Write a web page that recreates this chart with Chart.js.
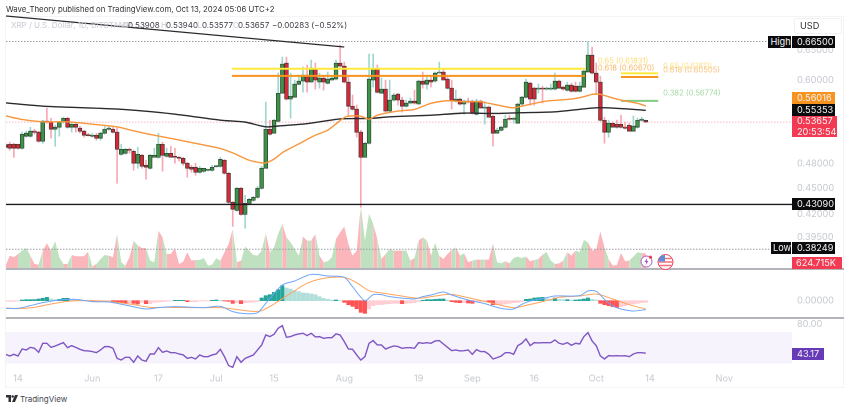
<!DOCTYPE html>
<html>
<head>
<meta charset="utf-8">
<title>XRP / U.S. Dollar</title>
<script src="https://cdn.jsdelivr.net/npm/chart.js@4/dist/chart.umd.min.js"></script>
<style>
  html, body { margin: 0; padding: 0; background: #fff; }
  #page { position: relative; width: 850px; height: 409px; overflow: hidden; font-family: Inter, "Liberation Sans", sans-serif; }
  #page canvas { position: absolute; left: 0; }
  .t { position: absolute; white-space: nowrap; font-size: 8px; line-height: 12px; }
  .pale { color: #c9ccd3; }
  .dark { color: #3a3d45; }
  .badge { position: absolute; left: 792px; width: 43px; box-sizing: border-box; padding-left: 5px; color: #f4f4f6; background: #0b0b0d; font-size: 9.2px; line-height: 12px; height: 12px; white-space: nowrap; }
  .sep { position: absolute; left: 6px; width: 838px; height: 1.5px; background: #b3b5ba; }
  #frame { position: absolute; left: 5px; top: 16px; width: 839px; height: 372px; border: 1px solid #f3f4f6; box-sizing: border-box; }
</style>
</head>
<body>
<div id="page">
  <div id="frame"></div>
  <canvas id="mainChart" width="850" height="269" style="top:0"></canvas>
  <canvas id="macdChart" width="850" height="49" style="top:269px"></canvas>
  <canvas id="rsiChart" width="850" height="70" style="top:318px"></canvas>
  <div class="sep" style="top:268px"></div>
  <div class="sep" style="top:317px"></div>

  <div class="t" style="left:6px;top:3px;color:#2f3136;font-size:7.8px">Wave_Theory published on TradingView.com, Oct 13, 2024 05:06 UTC+2</div>
  <div class="t pale" style="left:11px;top:19px">XRP / U.S. Dollar, 1D, BITSTAMP</div>
  <div class="t pale" style="left:122px;top:19px">O</div><div class="t dark" style="left:128px;top:19px">0.53908</div>
  <div class="t pale" style="left:161px;top:19px">H</div><div class="t dark" style="left:166px;top:19px">0.53940</div>
  <div class="t pale" style="left:197px;top:19px">L</div><div class="t dark" style="left:202px;top:19px">0.53577</div>
  <div class="t pale" style="left:233px;top:19px">C</div><div class="t dark" style="left:238px;top:19px">0.53657</div>
  <div class="t dark" style="left:272px;top:19px">−0.00283 (−0.52%)</div>

  <div style="position:absolute;left:794px;top:18px;width:48px;height:16px;border:1px solid #f0f1f3;box-sizing:border-box;border-radius:2px"></div>
  <div class="t" style="left:800px;top:20px;color:#2f3136;font-size:9.2px">USD</div>

  <div class="badge" style="left:768px;width:23px;top:36px;padding-left:2.5px">High</div>
  <div class="badge" style="top:36px">0.66500</div>
  <div class="badge" style="top:92px;background:#f7931e">0.56016</div>
  <div class="badge" style="top:104px">0.55353</div>
  <div class="badge" style="top:116px;width:45px;height:21px;background:#f23a52;line-height:10.5px">0.53657<br>20:53:54</div>
  <div class="badge" style="top:197.5px">0.43090</div>
  <div class="badge" style="left:771px;width:20px;top:242px;padding-left:2px">Low</div>
  <div class="badge" style="top:242px">0.38249</div>
  <div class="badge" style="top:257px;width:50px;background:#f23a52;padding-left:4px">624.715K</div>
  <div class="badge" style="top:347.5px;width:32px;background:#673ab7">43.17</div>

  <svg style="position:absolute;left:640px;top:255px" width="13" height="13" viewBox="0 0 13 13">
    <circle cx="6.5" cy="6.5" r="5.5" fill="#fff" stroke="#a64bc8" stroke-width="1"/>
    <path d="M7.2 3 L4.6 7 H6.3 L5.7 10 L8.4 6 H6.7 Z" fill="#a64bc8"/>
    <circle cx="10.5" cy="2.2" r="1.6" fill="#f23a52"/>
  </svg>
  <svg style="position:absolute;left:656.5px;top:253.5px" width="17" height="16" viewBox="0 0 17 16">
    <circle cx="8.5" cy="8" r="7.5" fill="#fff" stroke="#f23a52" stroke-width="1"/>
    <path d="M2 4.5H15M1 8H16M2 11.5H15" stroke="#f4707f" stroke-width="1.4"/>
    <path d="M2.5 3.2 A7.2 7.2 0 0 1 8 1 V7.5 H1.5 Z" fill="#5a8fd8"/>
  </svg>

  <svg style="position:absolute;left:6px;top:395px" width="12" height="7" viewBox="0 0 12 7">
    <path d="M0 0H5V7H2.5V2.5H0Z M9 0H12L9 7H6Z" fill="#2f3136"/><circle cx="6.7" cy="1.5" r="1.3" fill="#2f3136"/>
  </svg>
  <div class="t" style="left:20px;top:393px;color:#44474f">TradingView</div>
</div>

<script>
// daily candles, first one is May 11 (day -3 counted from May 14)
const firstDay = -3;

const opens = [.5052,.5059,.5059,.5059,.5005,.5168,.5168,.5238,.5224,.5099,.5379,.5365,.5265,.5294,.5365,.5422,.5294,.5336,.5280,.5238,
  .5189,.5168,.5182,.5141,.5210,.5265,.5265,.5224,.4925,.4938,.4991,.4965,.4809,.4912,.4783,.4745,.4885,.4885,.5059,.4899,
  .4938,.4899,.4885,.4872,.4809,.4758,.4758,.4695,.4708,.4720,.4720,.4764,.4770,.4847,.4683,.4334,.4242,.4499,.4197,.4322,
  .4357,.4392,.4499,.4745,.5265,.5210,.5379,.5795,.6278,.5704,.5734,.5936,.5984,.6080,.5968,.6179,.5968,.6032,.5952,.6000,
  .6016,.6278,.6228,.5968,.5598,.5554,.5224,.4885,.5072,.6000,.6179,.5795,.5858,.5525,.5689,.5780,.5689,.5598,.5644,.5674,
  .5629,.5984,.5936,.6000,.5984,.6113,.6130,.6016,.5873,.5674,.5704,.5629,.5674,.5674,.5480,.5674,.5569,.5584,.5451,.5210,
  .5251,.5294,.5422,.5407,.5350,.5629,.5734,.5952,.5873,.5858,.5866,.5858,.5858,.5858,.5984,.5889,.5842,.5921,.5905,.5826,
  .5889,.6130,.6413,.6113,.5968,.5393,.5224,.5350,.5336,.5336,.5294,.5322,.5238,.5294,.5393,.53908];
const highs = [.5072,.5086,.5072,.5059,.5224,.5238,.5294,.5265,.5238,.5393,.5569,.5422,.5322,.5365,.5436,.5436,.5365,.5365,.5308,.5251,
  .5210,.5210,.5210,.5224,.5308,.5308,.5294,.5280,.5059,.5005,.5005,.4978,.5018,.4925,.4847,.4925,.5005,.5210,.5086,.5005,
  .5032,.5005,.4899,.4885,.4821,.4783,.4809,.4770,.4745,.4733,.4783,.4783,.4885,.4859,.4695,.4345,.4511,.4511,.4415,.4380,
  .4403,.4523,.4770,.5659,.5393,.5407,.6113,.6379,.6379,.6113,.6000,.6080,.6212,.6245,.6329,.6278,.6113,.6080,.6130,.6080,
  .6329,.6587,.6295,.6080,.5765,.5613,.5251,.5086,.6431,.6431,.6245,.6032,.6000,.6000,.5795,.5795,.5734,.5689,.5719,.5842,
  .6000,.6130,.6048,.6048,.6130,.6295,.6162,.6048,.6000,.5842,.5719,.5689,.5719,.5689,.5704,.5689,.5659,.5598,.5465,.5280,
  .5308,.5465,.5465,.5436,.5644,.5749,.6016,.5968,.5889,.5936,.5905,.5889,.5936,.6113,.6000,.5905,.5968,.5952,.5968,.5968,
  .6162,.6650,.6553,.6278,.6064,.5436,.5393,.5365,.5393,.5465,.5365,.5350,.5451,.5422,.5436,.53940];
const lows = [.5005,.4978,.4885,.4991,.4991,.5154,.5154,.5196,.5086,.5072,.5350,.5141,.5032,.5168,.5350,.5280,.5224,.5224,.5210,.5154,
  .5168,.5154,.5113,.5113,.5196,.5251,.5210,.4559,.4912,.4925,.4938,.4720,.4745,.4745,.4608,.4733,.4885,.4872,.4708,.4885,
  .4885,.4809,.4834,.4783,.4633,.4695,.4657,.4683,.4695,.4708,.4708,.4758,.4758,.4670,.4322,.4065,.4231,.4186,.4044,.4311,
  .4345,.4380,.4487,.4745,.5182,.5210,.5365,.5795,.5689,.5422,.5734,.5921,.5811,.5811,.5968,.5858,.5873,.5842,.5936,.6000,
  .6000,.6212,.5952,.5465,.5539,.5154,.4277,.4885,.5059,.5889,.5795,.5795,.5510,.5510,.5674,.5613,.5510,.5584,.5629,.5629,
  .5629,.5873,.5858,.5889,.5968,.6113,.6000,.5858,.5554,.5659,.5613,.5480,.5644,.5480,.5465,.5569,.5336,.5436,.5032,.5210,
  .5238,.5280,.5393,.5350,.5350,.5613,.5719,.5613,.5613,.5795,.5644,.5842,.5842,.5842,.5873,.5842,.5826,.5811,.5811,.5811,
  .5889,.6130,.6097,.5780,.5379,.5072,.5154,.5294,.5280,.5280,.5265,.5238,.5238,.5280,.5379,.53577];
const closes = [.5018,.5005,.5005,.5005,.5196,.5210,.5238,.5224,.5099,.5379,.5365,.5265,.5294,.5365,.5422,.5294,.5336,.5294,.5238,.5182,
  .5175,.5182,.5141,.5210,.5265,.5280,.5224,.4991,.4991,.4991,.4978,.4809,.4925,.4770,.4758,.4912,.4912,.5059,.4912,.4938,
  .4885,.4885,.4872,.4809,.4745,.4733,.4695,.4745,.4745,.4727,.4758,.4777,.4859,.4683,.4334,.4254,.4499,.4197,.4322,.4368,
  .4392,.4499,.4745,.5265,.5196,.5393,.5795,.6262,.5704,.5749,.5936,.5984,.6080,.5968,.6195,.6000,.6032,.5968,.6016,.6032,
  .6278,.6228,.5968,.5598,.5554,.5224,.4885,.5072,.6016,.6179,.5811,.5858,.5525,.5689,.5765,.5689,.5598,.5644,.5674,.5644,
  .5984,.5936,.6000,.5968,.6113,.6130,.6000,.5873,.5674,.5704,.5629,.5674,.5659,.5495,.5674,.5569,.5576,.5436,.5210,.5251,
  .5294,.5407,.5407,.5422,.5629,.5734,.5968,.5704,.5704,.5866,.5858,.5873,.5873,.5984,.5873,.5858,.5921,.5826,.5826,.5905,
  .6146,.6413,.6113,.5968,.5393,.5224,.5350,.5294,.5294,.5294,.5280,.5238,.5308,.5393,.5407,.53657];

// volume in thousands
const volumes = [133,533,467,600,733,840,533,200,173,733,1027,733,1107,467,200,200,560,507,507,507,
  693,107,200,400,560,533,467,1400,267,133,467,1133,933,840,840,333,267,1533,1267,600,
  600,840,200,293,667,333,360,360,440,133,173,427,333,667,1000,1600,267,333,893,733,
  560,533,733,1440,667,867,1400,1800,1267,1067,800,533,1293,1133,1133,1400,533,267,307,467,
  1200,1467,1693,1000,533,733,2533,1133,2200,1800,1200,400,600,800,733,733,733,733,333,440,
  1133,1267,1133,533,1040,533,400,600,760,867,533,627,267,333,373,373,373,373,1027,267,
  227,307,227,440,493,440,493,307,360,400,573,667,333,200,227,333,667,533,733,667,
  1160,1067,733,800,1493,867,400,133,160,640,307,333,493,667,640,624.715];

const ema50Days = [-3,1,6,12,18,24,28,32,38,44,49,52,56,59,60,62,64,65,68,72,75,79,80,83,85,87,92,96,100,104,108,112,114,118,120,122,128,134,137,139,140,141,143,146,150,152];
const ema50Vals = [.5455,.5403,.5369,.5369,.5336,.5298,.5242,.5192,.5127,.5059,.5001,.4943,.4847,.4812,.4812,.4862,.4946,.4978,.5063,.5182,.5251,.5432,.5451,.5451,.5407,.5465,.5525,.5550,.5640,.5679,.5664,.5664,.5640,.5590,.5574,.5598,.5674,.5704,.5740,.5777,.5780,.5777,.5740,.5689,.5640,.56016];
const ema200Days = [-3,6,24,38,49,55,60,63,70,78,85,90,100,108,115,121,130,140,146,152];
const ema200Vals = [.5647,.5598,.5554,.5480,.5393,.5365,.5298,.5310,.5343,.5411,.5417,.5441,.5465,.5495,.5490,.5500,.5514,.5574,.5562,.55353];

// MACD pane, values in units of 0.00015
const macdHist = [-2,-2,-2,-1,2,3,3,3,5,7,10,5,3,4,7,7,3,2,1,1,
  0,-2,-2,-1,-1,-1,-3,-5,-6,-7,-7,-8,-10,-5,-9,-9,-5,-4,-3,-2,
  -1,1,1,1,-3,-3,-3,-1,-1,-1,1,2,1,-1,-2,-8,-6,-9,-6,-5,
  -4,-2,8,15,18,25,33,45,38,35,30,27,23,22,20,18,12,7,4,2,
  2,0,-5,-12,-17,-24,-35,-38,-25,-15,-12,-12,-10,-9,-8,-8,-9,-8,-7,-6,
  -3,1,3,3,4,5,5,1,-3,-5,-6,-6,-7,-8,-4,-3,-3,-4,-12,-12,
  -12,-10,-8,-6,-5,-3,4,5,8,9,10,6,4,8,4,3,3,2,2,3,
  5,8,4,2,-8,-12,-15,-18,-20,-18,-15,-12,-10,-8,-6,-5];
const macdDays = [-3,0,3,6,10,14,18,22,26,31,34,38,45,49,52,55,58,60,64,67,71,75,79,81,84,86,88,90,96,98,100,103,105,109,113,116,118,120,122,124,127,130,136,138,140,142,144,146,149,152];
const macdVals = [-23,-23,-15,-6,2,4,-3,-4,-13,-25,-21,-18,-21,-17,-33,-39,-36,-8,47,59,79,74,70,42,0,18,18,12,5,12,17,26,17,2,-9,-20,-25,-25,-11,-1,6,14,15,29,28,4,-16,-25,-31,-27];
const signalDays = [-3,0,4,8,12,16,20,24,28,32,36,44,49,52,57,59,62,66,70,74,79,82,85,88,92,96,98,101,105,109,114,120,123,127,131,136,140,144,148,152];
const signalVals = [-22,-24,-20,-10,-2,0,-1,-5,-12,-20,-20,-21,-21,-25,-32,-30,-10,22,52,67,70,54,30,23,16,8,8,14,19,9,-5,-21,-14,-3,10,14,20,5,-12,-25];

const rsiVals = [41.8,39.7,41.8,39.7,48.5,47.3,50.6,49.4,44.3,55.7,55.7,50.6,52.3,54.4,56.5,50.2,52.7,50.6,48.1,46.4,
  46,45.2,43.9,47.3,51.5,51.5,49.4,36.7,34.6,38,38,31.7,39.7,34.6,33,42.2,42.2,50.2,44.3,46,
  43.9,43.9,42.2,41,36.7,38,35.9,41,38.8,38.8,41,42.2,48.1,38.8,27.5,25.4,38.8,31.7,36.7,38.8,
  41,47.3,53.6,66.2,64.1,67.1,74.6,78,63.3,64.1,66.2,67.5,68.3,65.4,68.3,63.7,64.1,62,62.8,62.8,
  67.5,66.2,57.8,48.5,48.1,41,34.6,38.8,55.7,59.1,53.6,53.6,48.5,50.6,52.3,51.5,49.4,50.2,50.2,49.4,
  56.5,55.7,56.5,55.7,58.6,59.1,54.8,50.6,46.4,47.3,46,46.4,47.3,41.8,47.7,45.2,45.2,41.8,35.9,37.6,
  39.7,43.9,43.9,41.8,52.7,55.7,61.2,52.7,56.5,56.1,56.5,56.5,56.5,59.9,55.7,54.4,56.5,53.2,55.7,54.8,
  64.1,69.2,58.6,52.7,39.7,35.9,40.1,39.7,40.1,39.7,40.1,38.8,42.2,43.9,43.9,43.17];

// axis ticks
const priceTicks = [.65,.6,.48,.45,.42,.395];
const macdTicks = [0];
const rsiTicks = [80];
const xTickDays = [0,18,34,48,62,79,97,110,125,140,153,171];
const xTickLabels = ['14','Jun','17','Jul','15','Aug','19','Sep','16','Oct','14','Nov'];

// levels drawn on the price pane
const highPrice = .665, lowPrice = .38249, lastPrice = .53657, supportPrice = .4309;
const fibYellow = .61831, fibOrange = .6067, fibYellow2 = .6108, fibOrange2 = .60505, fibGreen = .56774;
const trendDays = [-3,79], trendPrices = [.7117,.6553];
const fibLabels = [
  { day: 140.4, price: .6312, text: '0.65 (0.61831)', color: '#fbdc78' },
  { day: 140.4, price: .6195, text: '0.618 (0.60670)', color: '#f8b765' },
  { day: 156.2, price: .6228, text: '0.65 (0.61811)', color: '#fbe38e' },
  { day: 156.2, price: .6162, text: '0.618 (0.60505)', color: '#f8c27c' },
  { day: 156.2, price: .5795, text: '0.382 (0.56774)', color: '#a5d8a5' }
];

const days = opens.map((_, i) => firstDay + i);
const dayMin = -2.9, dayMax = 187.4;
const FONT = { family: 'Inter, "Liberation Sans", sans-serif', size: 9.2 };
const TICK_GREY = '#c6c9d0';

function pts(xs, ys) { return xs.map((x, i) => ({ x: x, y: ys[i] })); }
function isUp(i) { return closes[i] >= opens[i]; }

function lineSet(xs, ys, color, width, order, extra) {
  return Object.assign({
    type: 'line', data: pts(xs, ys), borderColor: color, borderWidth: width,
    pointRadius: 0, fill: false, order: order, yAxisID: 'y'
  }, extra || {});
}
function level(price, from, to, color, width, order, dash) {
  return lineSet([from, to], [price, price], color, width, order, { borderDash: dash || [] });
}

function xOpts(shown) {
  return {
    type: 'linear', min: dayMin, max: dayMax, display: shown, bounds: 'data', offset: false,
    grid: { display: false, drawTicks: false, tickLength: 0 }, border: { display: false },
    afterBuildTicks: s => { s.ticks = xTickDays.map(v => ({ value: v })); },
    afterFit: s => { s.height = shown ? 18 : 0; s.paddingLeft = 0; s.paddingRight = 0; },
    ticks: {
      autoSkip: false, maxRotation: 0, color: TICK_GREY, font: FONT, padding: 3,
      callback: v => xTickLabels[xTickDays.indexOf(v)]
    }
  };
}
function yOpts(type, min, max, tickVals, decimals) {
  return {
    type: type, position: 'right', min: min, max: max, bounds: 'data',
    grid: { display: false, drawTicks: false }, border: { display: false },
    afterBuildTicks: s => { s.ticks = tickVals.map(v => ({ value: v })); },
    // no extra room for the tick labels, pane sizes are fixed by the canvas
    afterFit: s => { s.width = 58; s.paddingTop = 0; s.paddingBottom = 0; },
    ticks: { autoSkip: false, color: TICK_GREY, font: FONT, padding: 5, callback: v => Number(v).toFixed(decimals) }
  };
}
const baseOptions = {
  responsive: false, animation: false, devicePixelRatio: 2,
  plugins: { legend: { display: false }, tooltip: { enabled: false } }
};

const fibLabelPlugin = {
  id: 'fibLabels',
  afterDatasetsDraw(chart) {
    const ctx = chart.ctx;
    ctx.save();
    ctx.font = '7.6px ' + FONT.family;
    ctx.textBaseline = 'middle';
    fibLabels.forEach(l => {
      ctx.fillStyle = l.color;
      ctx.fillText(l.text, chart.scales.x.getPixelForValue(l.day), chart.scales.y.getPixelForValue(l.price));
    });
    ctx.restore();
  }
};

new Chart(document.getElementById('mainChart'), {
  type: 'bar',
  plugins: [fibLabelPlugin],
  data: {
    datasets: [
      lineSet(ema50Days, ema50Vals, '#f7963c', 1.4, 1, { tension: 0.25 }),
      lineSet(ema200Days, ema200Vals, '#2b2b2e', 1.4, 1, { tension: 0.25 }),
      lineSet(trendDays, trendPrices, '#2b2b2e', 1.2, 1),
      level(supportPrice, dayMin, dayMax, '#1c1c1f', 1.4, 1),
      level(fibYellow, 51.8, 137.3, '#ffe93b', 2, 2),
      level(fibOrange, 51.8, 137.3, '#f7941d', 2, 2),
      level(fibYellow2, 146, 155, '#ffe93b', 2, 2),
      level(fibOrange2, 146, 155, '#f7941d', 2, 2),
      level(fibGreen, 146, 155, '#82cc82', 2, 2),
      level(highPrice, dayMin, dayMax, '#9a9da3', 1, 8, [1.5, 1.5]),
      level(lowPrice, dayMin, dayMax, '#9a9da3', 1, 8, [1.5, 1.5]),
      level(lastPrice, dayMin, dayMax, '#f8b8c0', 1, 8, [1.5, 1.5]),
      {
        type: 'bar', label: 'bodies', order: 4, yAxisID: 'y', grouped: false,
        data: days.map((d, i) => ({ x: d, y: [opens[i], closes[i]] })),
        backgroundColor: days.map((_, i) => isUp(i) ? '#3d9347' : '#d62839'),
        borderColor: '#2e3a32', borderWidth: 0.7, borderSkipped: false,
        barThickness: 3.8, minBarLength: 1
      },
      {
        type: 'bar', label: 'wicks', order: 5, yAxisID: 'y', grouped: false,
        data: days.map((d, i) => ({ x: d, y: [lows[i], highs[i]] })),
        backgroundColor: days.map((_, i) => isUp(i) ? '#9fd8cf' : '#f6a9b5'),
        barThickness: 1
      },
      {
        type: 'line', label: 'volume', order: 10, yAxisID: 'vol',
        data: pts(days, volumes), borderWidth: 0, borderColor: 'rgba(0,0,0,0)', pointRadius: 0,
        fill: 'origin', backgroundColor: '#fbb6bc',
        segment: { backgroundColor: c => isUp(c.p1DataIndex) ? '#bfe1bf' : '#fbb6bc' }
      }
    ]
  },
  options: Object.assign({}, baseOptions, {
    layout: { padding: { left: 6, top: 14, right: 0, bottom: 0 } },
    scales: {
      x: xOpts(false),
      y: yOpts('logarithmic', .3629, .7154, priceTicks, 5),
      vol: { type: 'linear', display: false, min: 0, max: 10180 }
    }
  })
});

new Chart(document.getElementById('macdChart'), {
  type: 'bar',
  data: {
    datasets: [
      lineSet(macdDays, macdVals, '#6ea6fb', 1, 1, { tension: 0.3 }),
      lineSet(signalDays, signalVals, '#ffa45c', 1, 1, { tension: 0.3 }),
      {
        type: 'bar', order: 3, grouped: false, yAxisID: 'y',
        data: pts(days, macdHist),
        backgroundColor: macdHist.map((h, i) => {
          const rising = i === 0 || h >= macdHist[i - 1];
          if (h >= 0) return rising ? '#26a69a' : '#b2dfdb';
          return rising ? '#ffcdd2' : '#ff5252';
        }),
        barThickness: 3.4
      }
    ]
  },
  options: Object.assign({}, baseOptions, {
    layout: { padding: { left: 6, top: 0, right: 0, bottom: 0 } },
    scales: { x: xOpts(false), y: yOpts('linear', -52, 95, macdTicks, 5) }
  })
});

new Chart(document.getElementById('rsiChart'), {
  type: 'line',
  data: {
    datasets: [
      lineSet(days, rsiVals, '#7e57c2', 1.4, 1),
      lineSet([dayMin, dayMax], [70, 70], 'rgba(0,0,0,0)', 0, 5, { fill: { value: 30 }, backgroundColor: '#f6f3fc' })
    ]
  },
  options: Object.assign({}, baseOptions, {
    layout: { padding: { left: 6, top: 0, right: 0, bottom: 0 } },
    scales: { x: xOpts(true), y: yOpts('linear', 22, 87.6, rsiTicks, 2) }
  })
});
</script>
</body>
</html>
